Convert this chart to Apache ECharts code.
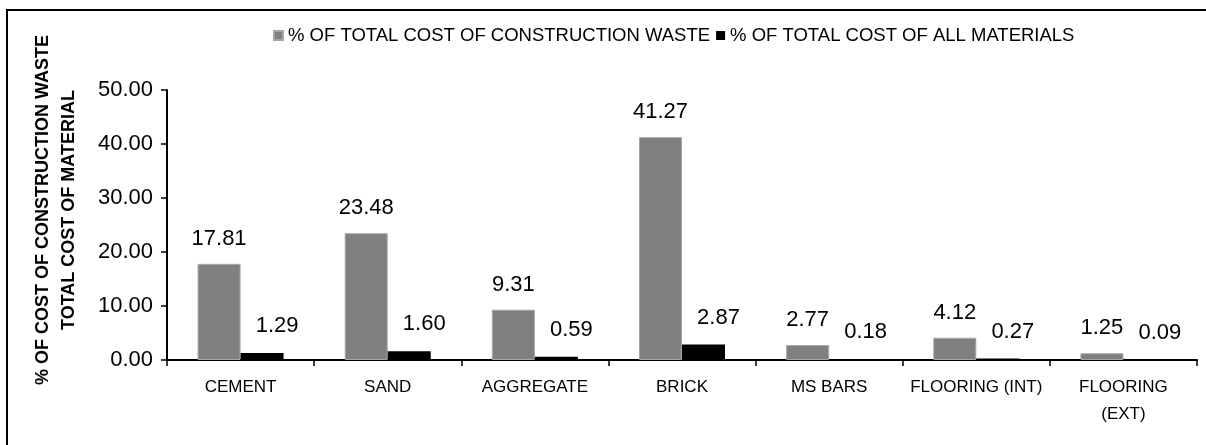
<!DOCTYPE html>
<html>
<head>
<meta charset="utf-8">
<script src="https://cdn.jsdelivr.net/npm/echarts@6/dist/echarts.min.js"></script>
<style>
html, body { margin: 0; padding: 0; background: #fff; }
#chart { width: 1206px; height: 445px; }
</style>
</head>
<body>
<div id="chart"></div>
<script>
const categories = ["CEMENT", "SAND", "AGGREGATE", "BRICK", "MS BARS", "FLOORING (INT)", "FLOORING\n(EXT)"];
const wasteCost = [17.81, 23.48, 9.31, 41.27, 2.77, 4.12, 1.25];
const materialCost = [1.29, 1.60, 0.59, 2.87, 0.18, 0.27, 0.09];
const seriesNames = ["% OF TOTAL COST OF CONSTRUCTION WASTE", "% OF TOTAL COST OF ALL MATERIALS"];
const titleLines = ["% OF COST OF CONSTRUCTION WASTE", "TOTAL COST OF MATERIAL"];
const yMin = 0, yMax = 50, yStep = 10;

const font = "Liberation Sans, Arial, sans-serif";
let mychart = echarts.init(document.getElementById("chart"));
const option = {
  animation: false,
  textStyle: { fontFamily: font },
  graphic: [
    // frame: only top and left edges fall inside the picture
    {
      type: "polyline",
      shape: { points: [[7, 445], [7, 10], [1206, 10]] },
      style: { fill: "none", stroke: "#000", lineWidth: 2 }
    },
    {
      type: "text",
      x: 43, y: 210,
      rotation: Math.PI / 2,
      style: {
        text: titleLines[0], fontFamily: font, fontSize: 18, fontWeight: "bold",
        fill: "#000", align: "center", verticalAlign: "middle"
      }
    },
    {
      type: "text",
      x: 69, y: 210,
      rotation: Math.PI / 2,
      style: {
        text: titleLines[1], fontFamily: font, fontSize: 18, fontWeight: "bold",
        fill: "#000", align: "center", verticalAlign: "middle"
      }
    }
  ],
  legend: {
    left: 268,
    top: 21,
    itemWidth: 9,
    itemHeight: 9,
    itemGap: 6,
    icon: "rect",
    textStyle: { fontSize: 18.5, color: "#000", fontFamily: font },
    data: seriesNames
  },
  grid: {
    left: 167,
    right: 9,
    top: 90,
    bottom: 85,
    containLabel: false
  },
  xAxis: {
    type: "category",
    data: categories,
    axisLine: { lineStyle: { color: "#000", width: 2 } },
    axisTick: { show: true, length: 6, lineStyle: { color: "#000", width: 1.5 } },
    axisLabel: {
      fontSize: 17,
      color: "#000",
      interval: 0,
      margin: 14,
      lineHeight: 27,
      fontFamily: font
    }
  },
  yAxis: {
    type: "value",
    min: yMin,
    max: yMax,
    interval: yStep,
    axisLine: { show: true, lineStyle: { color: "#000", width: 2 } },
    axisTick: { show: true, length: 6, lineStyle: { color: "#000", width: 1.5 } },
    splitLine: { show: false },
    axisLabel: {
      fontSize: 22,
      color: "#000",
      margin: 14,
      fontFamily: font,
      formatter: v => v.toFixed(2)
    }
  },
  series: [
    {
      name: seriesNames[0],
      type: "bar",
      data: wasteCost,
      barWidth: 43,
      barGap: "0%",
      itemStyle: { color: "#808080", borderColor: "#a6a6a6", borderWidth: 1 },
      label: {
        show: true,
        position: "top",
        distance: 14,
        fontSize: 22,
        color: "#000",
        fontFamily: font,
        formatter: p => p.value.toFixed(2)
      }
    },
    {
      name: seriesNames[1],
      type: "bar",
      data: materialCost,
      barWidth: 43,
      barGap: "0%",
      itemStyle: { color: "#000" },
      label: {
        show: true,
        position: "top",
        distance: 16,
        offset: [15, 0],
        fontSize: 22,
        color: "#000",
        fontFamily: font,
        formatter: p => p.value.toFixed(2)
      }
    }
  ]
};
mychart.setOption(option);
</script>
</body>
</html>
